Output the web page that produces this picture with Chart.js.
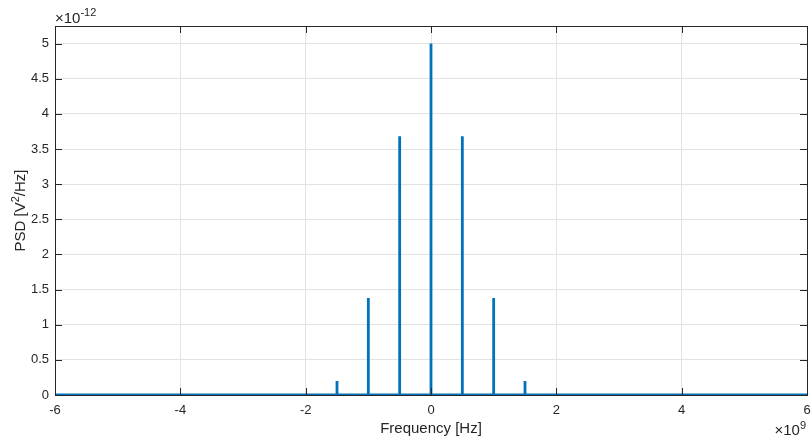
<!DOCTYPE html>
<html>
<head>
<meta charset="utf-8">
<script src="https://cdn.jsdelivr.net/npm/chart.js@4.4.1/dist/chart.umd.min.js"></script>
<style>
  html, body { margin: 0; padding: 0; background: #fff; }
  #wrap { width: 811px; height: 438px; position: relative; }
</style>
</head>
<body>
<div id="wrap"><canvas id="psdChart"></canvas></div>
<script>
// spectral lines, frequency in units of 1e9 Hz, PSD in units of 1e-12 V^2/Hz
const lineFreqs = [-3, -2.5, -1.5, -1, -0.5, 0, 0.5, 1, 1.5, 2.5, 3];
const lineLevels = [0.012, 0.02, 0.2, 1.38, 3.68, 5.0, 3.68, 1.38, 0.2, 0.02, 0.012];
const xTicks = [-6, -4, -2, 0, 2, 4, 6];
const yTicks = [0, 0.5, 1, 1.5, 2, 2.5, 3, 3.5, 4, 4.5, 5];

const fontFamily = '"Liberation Sans", Arial, Helvetica, sans-serif';
const axisColor = '#262626';
const gridColor = '#e3e3e3';
const lineColor = '#0072BD';

// build the trace: flat floor with a vertical spike at each line frequency
const trace = [{ x: xTicks[0], y: 0 }];
lineFreqs.forEach((f, i) => {
  trace.push({ x: f, y: 0 }, { x: f, y: lineLevels[i] }, { x: f, y: 0 });
});
trace.push({ x: xTicks[xTicks.length - 1], y: 0 });

// text with a raised, smaller tail (e.g. x10^9)
function supText(ctx, parts, x, y) {
  parts.forEach(p => {
    ctx.font = p.size + 'px ' + fontFamily;
    ctx.fillText(p.t, x, y - (p.rise || 0));
    x += ctx.measureText(p.t).width;
  });
  return x;
}
function supWidth(ctx, parts) {
  return parts.reduce((w, p) => {
    ctx.font = p.size + 'px ' + fontFamily;
    return w + ctx.measureText(p.t).width;
  }, 0);
}

// box, inward tick marks, y title and exponent labels
const axesDecor = {
  id: 'axesDecor',
  afterDraw(chart) {
    const { ctx, chartArea: a, scales } = chart;
    const len = 7;
    ctx.save();
    ctx.strokeStyle = axisColor;
    ctx.lineWidth = 1;
    ctx.beginPath();
    xTicks.forEach(v => {
      const px = Math.round(scales.x.getPixelForValue(v)) + 0.5;
      ctx.moveTo(px, a.bottom); ctx.lineTo(px, a.bottom - len);
      ctx.moveTo(px, a.top); ctx.lineTo(px, a.top + len);
    });
    yTicks.forEach(v => {
      const py = Math.round(scales.y.getPixelForValue(v)) + 0.5;
      ctx.moveTo(a.left, py); ctx.lineTo(a.left + len, py);
      ctx.moveTo(a.right, py); ctx.lineTo(a.right - len, py);
    });
    ctx.stroke();
    ctx.strokeRect(Math.round(a.left) + 0.5, Math.round(a.top) + 0.5,
      Math.round(a.right - a.left), Math.round(a.bottom - a.top));

    ctx.fillStyle = axisColor;
    ctx.textBaseline = 'alphabetic';
    ctx.textAlign = 'left';

    // y axis title, rotated
    const yTitle = [
      { t: 'PSD [V', size: 15 },
      { t: '2', size: 11, rise: 6 },
      { t: '/Hz]', size: 15 }
    ];
    const tw = supWidth(ctx, yTitle);
    ctx.save();
    ctx.translate(25, (a.top + a.bottom) / 2);
    ctx.rotate(-Math.PI / 2);
    supText(ctx, yTitle, -tw / 2, 0);
    ctx.restore();

    // y exponent
    supText(ctx, [
      { t: '\u00d710', size: 15 },
      { t: '-12', size: 11, rise: 7 }
    ], a.left, a.top - 3);

    // x exponent
    const xExp = [
      { t: '\u00d710', size: 15 },
      { t: '9', size: 11, rise: 6 }
    ];
    supText(ctx, xExp, a.right - supWidth(ctx, xExp) - 1, a.bottom + 40);
    ctx.restore();
  }
};

new Chart(document.getElementById('psdChart'), {
  type: 'line',
  data: {
    datasets: [{
      data: trace,
      borderColor: lineColor,
      borderWidth: 2.8,
      pointRadius: 0,
      tension: 0,
      fill: false
    }]
  },
  options: {
    responsive: true,
    maintainAspectRatio: false,
    animation: false,
    layout: { padding: { left: 0, right: 4, top: 26, bottom: 0 } },
    plugins: { legend: { display: false }, tooltip: { enabled: false } },
    scales: {
      x: {
        type: 'linear',
        min: -6,
        max: 6,
        afterBuildTicks: s => { s.ticks = xTicks.map(v => ({ value: v })); },
        afterFit: s => { s.height = 43; s.paddingLeft = 0; s.paddingRight = 0; },
        grid: { color: gridColor, drawTicks: false },
        border: { display: false },
        ticks: {
          padding: 8,
          color: axisColor,
          font: { family: fontFamily, size: 13 },
          callback: v => String(v),
          maxRotation: 0
        },
        title: {
          display: true,
          text: 'Frequency [Hz]',
          color: axisColor,
          font: { family: fontFamily, size: 15 },
          padding: { top: 0, bottom: 0 }
        }
      },
      y: {
        type: 'linear',
        min: 0,
        max: 5.25,
        afterBuildTicks: s => { s.ticks = yTicks.map(v => ({ value: v })); },
        afterFit: s => { s.width = 55; s.paddingTop = 0; s.paddingBottom = 0; },
        grid: { color: gridColor, drawTicks: false },
        border: { display: false },
        ticks: {
          padding: 6,
          color: axisColor,
          font: { family: fontFamily, size: 13 },
          callback: v => String(v)
        }
      }
    }
  },
  plugins: [axesDecor]
});
</script>
</body>
</html>
